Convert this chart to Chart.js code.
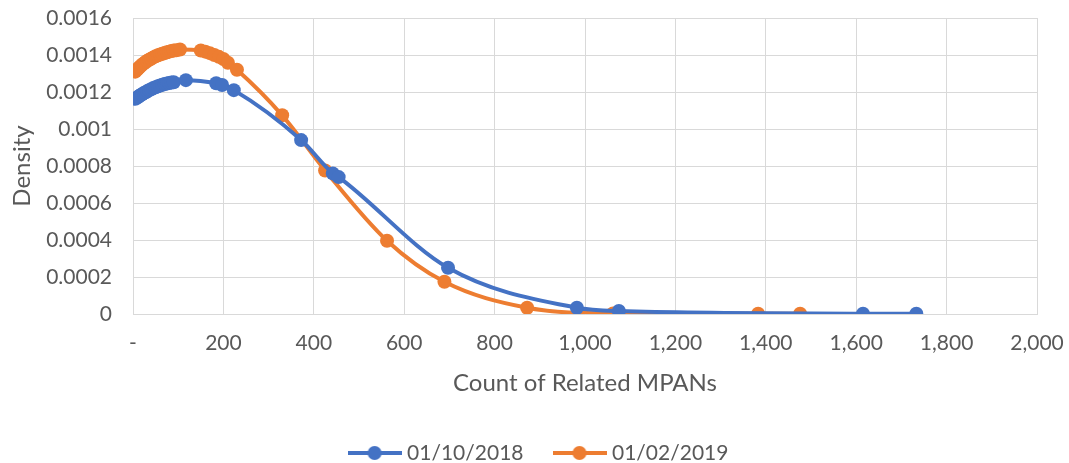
<!DOCTYPE html>
<html>
<head>
<meta charset="utf-8">
<script src="https://cdn.jsdelivr.net/npm/chart.js@4.4.0/dist/chart.umd.min.js"></script>
<style>
html,body{margin:0;padding:0;background:#fff;}
#wrap{width:1069px;height:463px;}
</style>
</head>
<body>
<div id="wrap"><canvas id="c" width="1069" height="463"></canvas></div>
<script>
// Series 1: 01/10/2018
const series1Label = '01/10/2018';
const series1X = [5,8,11,14,17,20,24,28,32,36,40,45,50,55,60,65,70,75,80,85,90,117,184,197,223,372,442,455,697,982,1075,1615,1733];
const series1Y = [0.001163,0.001168,0.001173,0.001178,0.001183,0.001188,0.001194,0.001199,0.001205,0.00121,0.001215,0.001221,0.001226,0.001231,0.001235,0.001239,0.001243,0.001246,0.001249,0.001251,0.001253,0.001264,0.001247,0.001238,0.00121,0.00094,0.00076,0.00074,0.00025,0.000034,0.000016,0.000002,0.000001];
// Series 2: 01/02/2019
const series2Label = '01/02/2019';
const series2X = [5,8,11,14,17,20,24,28,32,36,40,45,50,55,60,65,70,75,80,85,90,96,104,150,160,170,180,190,200,210,230,330,425,562,689,872,1062,1383,1476];
const series2Y = [0.00131,0.001318,0.001326,0.001333,0.00134,0.001347,0.001355,0.001362,0.001369,0.001375,0.00138,0.001387,0.001393,0.001398,0.001403,0.001407,0.001411,0.001415,0.001418,0.001421,0.001424,0.001426,0.00143,0.001424,0.001418,0.00141,0.0014,0.00139,0.001378,0.001358,0.00132,0.001074,0.000776,0.000396,0.000174,0.000034,0.000003,0.000001,0.000001];
// Axes
const xTickValues = [0,200,400,600,800,1000,1200,1400,1600,1800,2000];
const yTickValues = [0,0.0002,0.0004,0.0006,0.0008,0.001,0.0012,0.0014,0.0016];
const xTitle = 'Count of Related MPANs';
const yTitle = 'Density';

const BLUE = '#4472C4', ORANGE = '#ED7D31', TXT = '#595959', GRID = '#d9d9d9';
const FONT = 'Lato, "Open Sans", sans-serif';
const LEGEND_CENTER_Y = 453;
const LEGEND_PAD = 34;
const LEGEND_SHIFT_X = 22;

function legendIcon(color){
  const cv = document.createElement('canvas');
  cv.width = 54; cv.height = 16;
  const g = cv.getContext('2d');
  g.strokeStyle = color; g.lineWidth = 4;
  g.beginPath(); g.moveTo(0,8); g.lineTo(54,8); g.stroke();
  g.fillStyle = color;
  g.beginPath(); g.arc(27,8,7,0,Math.PI*2); g.fill();
  return cv;
}
const icons = [legendIcon(BLUE), legendIcon(ORANGE)];

function pts(xs, ys){ return xs.map((x,i)=>({x:x, y:ys[i]})); }

const moveLegend = {
  id: 'moveLegend',
  afterLayout(chart){
    const lg = chart.legend;
    if (!lg) return;
    const h = lg.height;
    lg.top = LEGEND_CENTER_Y - LEGEND_PAD - 10.5;
    lg.bottom = lg.top + h;
    lg.left += LEGEND_SHIFT_X;
    lg.right += LEGEND_SHIFT_X;
  }
};

new Chart(document.getElementById('c'), {
  type: 'line',
  plugins: [moveLegend],
  data: {
    datasets: [
      {label: series1Label, data: pts(series1X, series1Y), borderColor: BLUE, backgroundColor: BLUE,
       borderWidth: 4, pointRadius: 7, pointHoverRadius: 7, pointBorderWidth: 0, cubicInterpolationMode: 'monotone', fill: false},
      {label: series2Label, data: pts(series2X, series2Y), borderColor: ORANGE, backgroundColor: ORANGE,
       borderWidth: 4, pointRadius: 7, pointHoverRadius: 7, pointBorderWidth: 0, cubicInterpolationMode: 'monotone', fill: false}
    ]
  },
  options: {
    responsive: false,
    animation: false,
    events: [],
    layout: {padding: {top: 18, right: 32, left: 0, bottom: 0}},
    plugins: {
      tooltip: {enabled: false},
      legend: {
        position: 'bottom',
        labels: {
          usePointStyle: true,
          pointStyleWidth: 44,
          padding: LEGEND_PAD,
          color: TXT,
          font: {family: FONT, size: 21, lineHeight: 1},
          generateLabels: function(chart){
            const items = Chart.defaults.plugins.legend.labels.generateLabels(chart);
            items.forEach((it,i)=>{ it.pointStyle = icons[i]; });
            return items;
          }
        }
      }
    },
    scales: {
      x: {
        type: 'linear',
        min: 0, max: 2000,
        afterBuildTicks: function(s){ s.ticks = xTickValues.map(v=>({value:v})); },
        afterFit: function(s){ s.height = 84; s.paddingLeft = 0; s.paddingRight = 0; },
        grid: {color: GRID, lineWidth: 1, drawTicks: false},
        border: {color: GRID, width: 1},
        ticks: {
          color: TXT, padding: 17, maxRotation: 0,
          font: {family: FONT, size: 21},
          callback: function(v){ return v === 0 ? '-' : v.toLocaleString('en-US'); }
        },
        title: {display: true, text: xTitle, color: TXT, font: {family: FONT, size: 24}, padding: {top: 0, bottom: 0}}
      },
      y: {
        type: 'linear',
        min: 0, max: 0.0016,
        afterBuildTicks: function(s){ s.ticks = yTickValues.map(v=>({value:v})); },
        afterFit: function(s){ s.width = 133; s.paddingTop = 0; s.paddingBottom = 0; },
        grid: {color: GRID, lineWidth: 1, drawTicks: false},
        border: {color: GRID, width: 1},
        ticks: {
          color: TXT, padding: 21,
          font: {family: FONT, size: 21},
          callback: function(v){ return String(parseFloat(v.toFixed(4))); }
        },
        title: {display: true, text: yTitle, color: TXT, font: {family: FONT, size: 24}, padding: {top: 8, bottom: 0}}
      }
    }
  }
});
</script>
</body>
</html>
